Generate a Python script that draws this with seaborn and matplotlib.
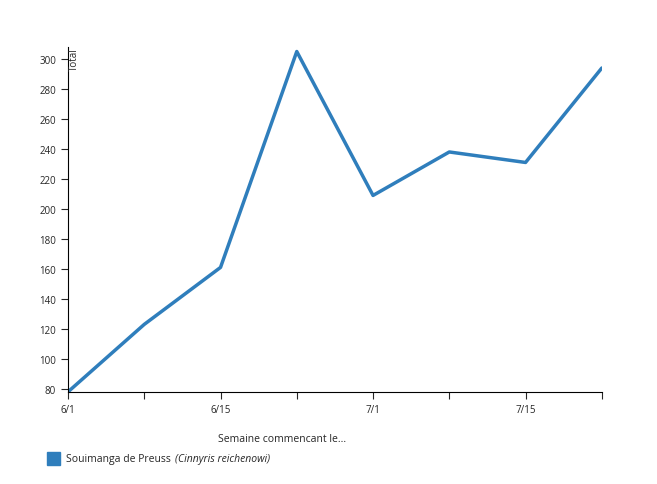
import matplotlib
matplotlib.use("Agg")
import matplotlib.pyplot as plt
import seaborn as sns
import pandas as pd

# weekly totals
weeks = ["6/1", "6/8", "6/15", "6/22", "6/29", "7/6", "7/13", "7/20"]
tick_labels = ["6/1", "", "6/15", "", "7/1", "", "7/15", ""]
totals = [78, 123, 161, 305, 209, 238, 231, 294]

sns.set_style("white")
plt.rcParams["font.family"] = ["Open Sans", "DejaVu Sans"]

color = "#2f7ebc"
df = pd.DataFrame({"idx": range(len(weeks)), "total": totals})

fig = plt.figure(figsize=(6.57, 4.85), dpi=100)
ax = fig.add_axes([0.1035, 0.190, 0.8125, 0.711])
sns.lineplot(data=df, x="idx", y="total", color=color, linewidth=2.5, ax=ax)

ax.set_xlim(0, len(weeks) - 1)
ax.set_ylim(78, 308)
ax.set_xticks(range(len(weeks)))
ax.set_xticklabels(tick_labels, fontsize=7)
ax.set_yticks(range(80, 301, 20))
ax.tick_params(axis="y", labelsize=7, length=5, width=0.8, direction="out", left=True)
ax.tick_params(axis="x", length=5, width=0.8, direction="out", bottom=True)
for s in ["top", "right"]:
    ax.spines[s].set_visible(False)
for s in ["left", "bottom"]:
    ax.spines[s].set_color("black")
    ax.spines[s].set_linewidth(0.8)
ax.set_xlabel("")
ax.set_ylabel("")
ax.text(-0.01 * 0 + 0.012, 1.0, "Total", transform=ax.transAxes, rotation=90,
        fontsize=7, ha="center", va="top")

fig.text(282 / 657, 1 - 440 / 485, "Semaine commencant le...", fontsize=7.5,
         ha="center", va="center")
fig.patches.append(plt.Rectangle((47 / 657, 1 - 466 / 485), 13 / 657, 13 / 485,
                                 transform=fig.transFigure, color=color))
fig.text(66 / 657, 1 - 460 / 485, "Souimanga de Preuss", fontsize=7.5, va="center")
fig.text(175 / 657, 1 - 460 / 485, "(Cinnyris reichenowi)", fontsize=7.5,
         va="center", style="italic")

fig.savefig("out.png", dpi=100)
